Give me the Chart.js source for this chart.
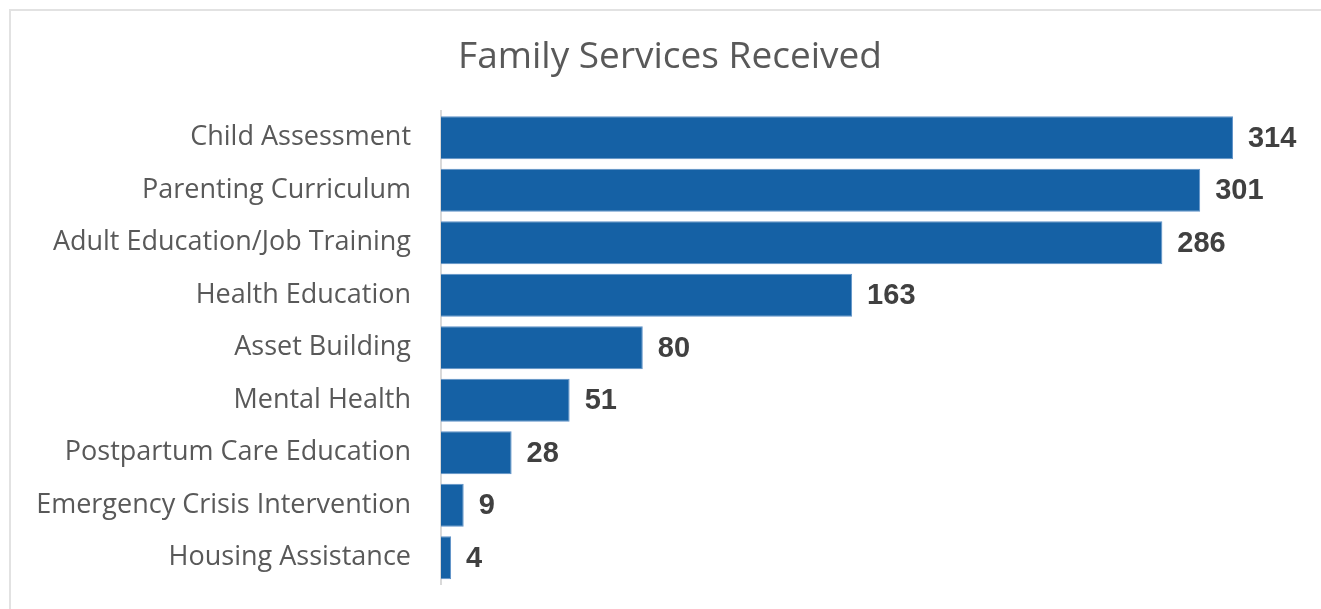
<!DOCTYPE html>
<html lang="en">
<head>
    <meta charset="UTF-8">
    <title>Family Services Received</title>
    <script src="https://cdn.jsdelivr.net/npm/chart.js"></script>
    <style>
        html, body {
            margin: 0;
            padding: 0;
            overflow: hidden;
            background: #fff;
        }
        .chartBox {
            position: relative;
            width: 1321px;
            height: 609px;
        }
        .frame {
            position: absolute;
            left: 9px;
            top: 9px;
            width: 1340px;
            height: 640px;
            border: 2px solid #e2e2e2;
        }
        canvas {
            position: absolute;
            left: 0;
            top: 0;
        }
    </style>
</head>
<body>
    <div class="chartBox">
        <div class="frame"></div>
        <canvas id="myChart" width="1321" height="609"></canvas>
    </div>
    <script>
        const services = [
            "Child Assessment",
            "Parenting Curriculum",
            "Adult Education/Job Training",
            "Health Education",
            "Asset Building",
            "Mental Health",
            "Postpartum Care Education",
            "Emergency Crisis Intervention",
            "Housing Assistance"
        ];
        const families = [314, 301, 286, 163, 80, 51, 28, 9, 4];

        // value labels at the end of each bar
        const barLabels = {
            id: 'barLabels',
            afterDatasetsDraw(chart) {
                const ctx = chart.ctx;
                const meta = chart.getDatasetMeta(0);
                ctx.save();
                ctx.font = 'bold 29px "Liberation Sans", Arial, sans-serif';
                ctx.fillStyle = '#404040';
                ctx.textAlign = 'left';
                ctx.textBaseline = 'middle';
                meta.data.forEach((bar, i) => {
                    ctx.fillText(families[i], bar.x + 15, bar.y + 1);
                });
                ctx.restore();
            }
        };

        const ctx = document.getElementById('myChart');
        new Chart(ctx, {
            type: 'bar',
            data: {
                labels: services,
                datasets: [{
                    data: families,
                    backgroundColor: '#1561a5',
                    borderColor: '#5f92c8',
                    borderWidth: 1,
                    categoryPercentage: 1,
                    barPercentage: 0.82
                }]
            },
            options: {
                indexAxis: 'y',
                responsive: false,
                animation: false,
                layout: {
                    padding: { left: 20, right: 1, top: 10, bottom: 25 }
                },
                plugins: {
                    legend: { display: false },
                    tooltip: { enabled: false },
                    title: {
                        display: true,
                        text: 'Family Services Received',
                        color: '#595959',
                        font: { family: '"Open Sans", sans-serif', size: 37, weight: 'normal', lineHeight: 1.2 },
                        padding: { top: 25, bottom: 32 }
                    }
                },
                scales: {
                    x: {
                        display: false,
                        min: 0,
                        max: 348.5
                    },
                    y: {
                        afterFit(scale) {
                            scale.width = 421;
                            // no extra room above/below for the first and last labels
                            scale.paddingTop = 0;
                            scale.paddingBottom = 0;
                        },
                        grid: { display: false },
                        border: { color: '#d9d9d9', width: 2 },
                        ticks: {
                            color: '#595959',
                            padding: 22,
                            font: { family: '"Open Sans", sans-serif', size: 27 }
                        }
                    }
                }
            },
            plugins: [barLabels]
        });
    </script>
</body>
</html>
